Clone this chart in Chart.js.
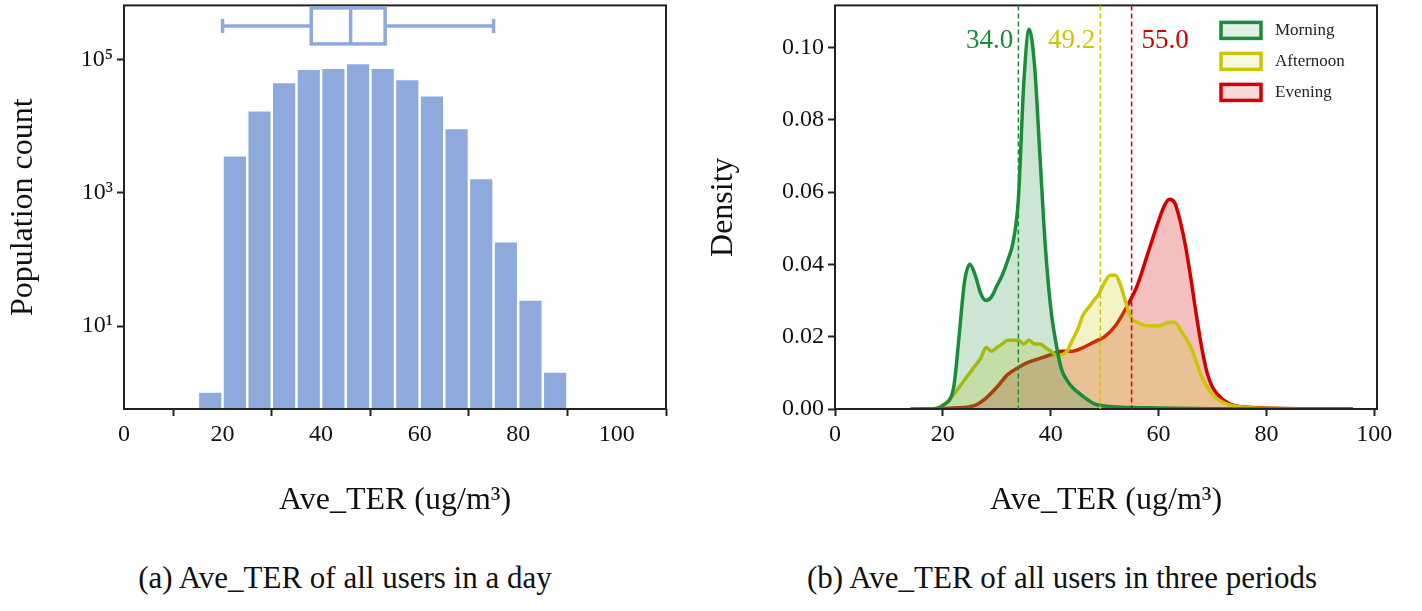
<!DOCTYPE html>
<html><head><meta charset="utf-8">
<script src="https://cdn.jsdelivr.net/npm/chart.js@4"></script>
<style>
body{margin:0;width:1422px;height:611px;background:#fff;position:relative;overflow:hidden;font-family:"Liberation Serif",serif}
.c{position:absolute;top:-13px;height:537px}
.cap{position:absolute;top:560px;font-size:31px;color:#111;white-space:nowrap;transform:translateX(-50%)}
</style></head><body>
<div class="c" style="left:0;width:690px"><canvas id="a"></canvas></div>
<div class="c" style="left:700px;width:722px"><canvas id="b"></canvas></div>
<div class="cap" style="left:345px">(a) Ave_TER of all users in a day</div>
<div class="cap" style="left:1062px">(b) Ave_TER of all users in three periods</div>
<script>
// ---- data ----
const binCenters=[17.5,22.5,27.5,32.5,37.5,42.5,47.5,52.5,57.5,62.5,67.5,72.5,77.5,82.5,87.5];
const binCounts=[1,3500,16600,44000,70000,72000,85000,72000,49000,28000,9000,1600,180,24,2];
const boxStats={min:20,q1:38,median:46,q3:53,max:75};
const logTicks=[10,1000,100000];
const morningX=[14,18,20,22,23,24,25,26,27,28,29,30,31,32,33,34,35,36,37,38,39,40,41,42,43,44,46,48,50,55,60,70,80,96];
const morningY=[0,0,0.001,0.006,0.02,0.035,0.040,0.037,0.032,0.030,0.031,0.034,0.037,0.041,0.046,0.058,0.09,0.105,0.095,0.07,0.045,0.028,0.018,0.011,0.008,0.006,0.0035,0.0015,0.0008,0.0004,0.0003,0.0001,0,0];
const afternoonX=[14,18,20,22,24,26,27,28,29,30,31,32,33,34,35,36,37,38,39,40,41,42,43,44,45,46,47,48,49,50,51,52,53,54,55,56,58,60,62,63,64,66,68,70,72,75,80,96];
const afternoonY=[0,0,0.001,0.004,0.008,0.012,0.014,0.017,0.016,0.017,0.018,0.019,0.019,0.019,0.018,0.019,0.018,0.018,0.017,0.016,0.015,0.015,0.016,0.019,0.022,0.026,0.028,0.030,0.032,0.035,0.037,0.037,0.034,0.029,0.025,0.024,0.023,0.023,0.024,0.024,0.022,0.017,0.009,0.004,0.0018,0.0006,0.0002,0];
const eveningX=[16,22,26,28,30,32,34,36,38,40,42,44,46,48,50,52,54,56,58,60,61,62,63,64,65,66,67,68,69,70,72,74,80,96];
const eveningY=[0,0.0003,0.001,0.003,0.006,0.0095,0.0115,0.013,0.014,0.015,0.016,0.016,0.017,0.0185,0.020,0.023,0.028,0.034,0.043,0.052,0.056,0.058,0.057,0.052,0.045,0.036,0.026,0.017,0.010,0.006,0.0025,0.001,0.0003,0];
const means=[34.0,49.2,55.0];
const periods=['Morning','Afternoon','Evening'];
const lineColors=['#1a8c3a','#c9c700','#d40000'];
const fillColors=['rgba(26,140,58,0.22)','rgba(201,199,0,0.22)','rgba(212,0,0,0.25)'];
const xTicksA=[0,20,40,60,80,100];

const serif='"Liberation Serif", serif';
Chart.defaults.font.family=serif;
Chart.defaults.color='#111';
const sup=n=>'10'+String(n).split('').map(d=>'⁰¹²³⁴⁵⁶⁷⁸⁹'[+d]).join('');
const gridOpt={display:true,drawOnChartArea:false,drawTicks:true,tickLength:7,tickColor:'#222',tickWidth:2};

const frame={id:'frame',afterDatasetsDraw(c){const a=c.chartArea,x=c.ctx;x.save();x.strokeStyle='#222';x.lineWidth=2;x.strokeRect(a.left,a.top,a.right-a.left,a.bottom-a.top);x.restore();}};
const boxPlot={id:'boxPlot',afterDatasetsDraw(c){
  const x=c.ctx,sx=c.scales.x,sy=c.scales.y,s=boxStats;
  const yc=sy.getPixelForValue(320000),h=18;
  const p=v=>sx.getPixelForValue(v);
  x.save();x.strokeStyle='#8eaadc';x.lineWidth=3.5;x.beginPath();
  x.moveTo(p(s.min),yc);x.lineTo(p(s.q1),yc);x.moveTo(p(s.q3),yc);x.lineTo(p(s.max),yc);
  x.moveTo(p(s.min),yc-7);x.lineTo(p(s.min),yc+7);x.moveTo(p(s.max),yc-7);x.lineTo(p(s.max),yc+7);
  x.moveTo(p(s.median),yc-h);x.lineTo(p(s.median),yc+h);x.stroke();
  x.strokeRect(p(s.q1),yc-h,p(s.q3)-p(s.q1),2*h);x.restore();}};

new Chart(document.getElementById('a'),{
 type:'bar',
 data:{datasets:[{data:binCenters.map((v,i)=>({x:v,y:binCounts[i]})),backgroundColor:'#8eaadc',barPercentage:0.9,categoryPercentage:1}]},
 options:{responsive:true,maintainAspectRatio:false,animation:false,
  layout:{padding:{top:4,right:24}},
  plugins:{legend:{display:false},tooltip:{enabled:false}},
  scales:{
   x:{type:'linear',offset:false,min:0,max:110,grid:gridOpt,border:{display:false},
      afterBuildTicks(s){s.ticks=xTicksA.map(v=>({value:v}));},
      ticks:{font:{size:24},padding:4,maxRotation:0,callback:v=>v},
      title:{display:true,text:'Ave_TER (ug/m³)',font:{size:32},padding:{top:14,bottom:4}},
      afterFit(s){s.height=115;}},
   y:{type:'logarithmic',min:0.57,max:650000,grid:gridOpt,border:{display:false},
      afterBuildTicks(s){s.ticks=logTicks.map(v=>({value:v}));},
      ticks:{font:{size:24},padding:4,callback:v=>sup(Math.round(Math.log10(v)))},
      title:{display:true,text:'Population count',font:{size:32},padding:{bottom:10}},
      afterFit(s){s.width=124;}}
  }},
 plugins:[frame,boxPlot]});

const meanLines={id:'meanLines',afterDatasetsDraw(c){
  const x=c.ctx,sx=c.scales.x,a=c.chartArea;x.save();
  means.forEach((m,i)=>{const px=sx.getPixelForValue(m);x.strokeStyle=lineColors[i];x.lineWidth=1.5;x.setLineDash([5,3]);
    x.beginPath();x.moveTo(px,a.top);x.lineTo(px,a.bottom);x.stroke();x.setLineDash([]);
    x.fillStyle=lineColors[i];x.font='27px '+serif;x.textBaseline='middle';
    if(i<2){x.textAlign='right';x.fillText(m.toFixed(1),px-5,a.top+36);}else{x.textAlign='left';x.fillText(m.toFixed(1),px+10,a.top+36);}});
  periods.forEach((n,i)=>{const y=a.top+25+i*31;x.fillStyle=fillColors[i];x.fillRect(a.right-156,y-8,40,16);
    x.fillStyle='rgba(255,255,255,0.4)';x.fillRect(a.right-156,y-8,40,16);
    x.strokeStyle=lineColors[i];x.lineWidth=3.5;x.strokeRect(a.right-156,y-8,40,16);
    x.fillStyle='#222';x.font='17px '+serif;x.textAlign='left';x.fillText(n,a.right-102,y);});
  x.restore();}};

new Chart(document.getElementById('b'),{
 type:'line',
 data:{datasets:[morningX,afternoonX,eveningX].map((xs,i)=>({label:periods[i],
   data:xs.map((v,j)=>({x:v,y:[morningY,afternoonY,eveningY][i][j]})),
   borderColor:lineColors[i],backgroundColor:fillColors[i],fill:'origin',borderWidth:3.5,pointRadius:0,cubicInterpolationMode:'monotone'}))},
 options:{responsive:true,maintainAspectRatio:false,animation:false,
  layout:{padding:{top:4,right:45}},
  plugins:{legend:{display:false},tooltip:{enabled:false}},
  scales:{
   x:{type:'linear',min:0,max:100.5,grid:gridOpt,border:{display:false},
      afterBuildTicks(s){s.ticks=xTicksA.map(v=>({value:v}));},
      ticks:{font:{size:24},padding:4,maxRotation:0,callback:v=>v},
      title:{display:true,text:'Ave_TER (ug/m³)',font:{size:32},padding:{top:14,bottom:4}},
      afterFit(s){s.height=115;}},
   y:{min:0,max:0.1116,grid:gridOpt,border:{display:false},
      afterBuildTicks(s){s.ticks=[0,0.02,0.04,0.06,0.08,0.10].map(v=>({value:v}));},
      ticks:{font:{size:24},padding:4,callback:v=>v.toFixed(2)},
      title:{display:true,text:'Density',font:{size:32},padding:{bottom:6}},
      afterFit(s){s.width=135;}}
  }},
 plugins:[frame,meanLines]});
</script></body></html>
